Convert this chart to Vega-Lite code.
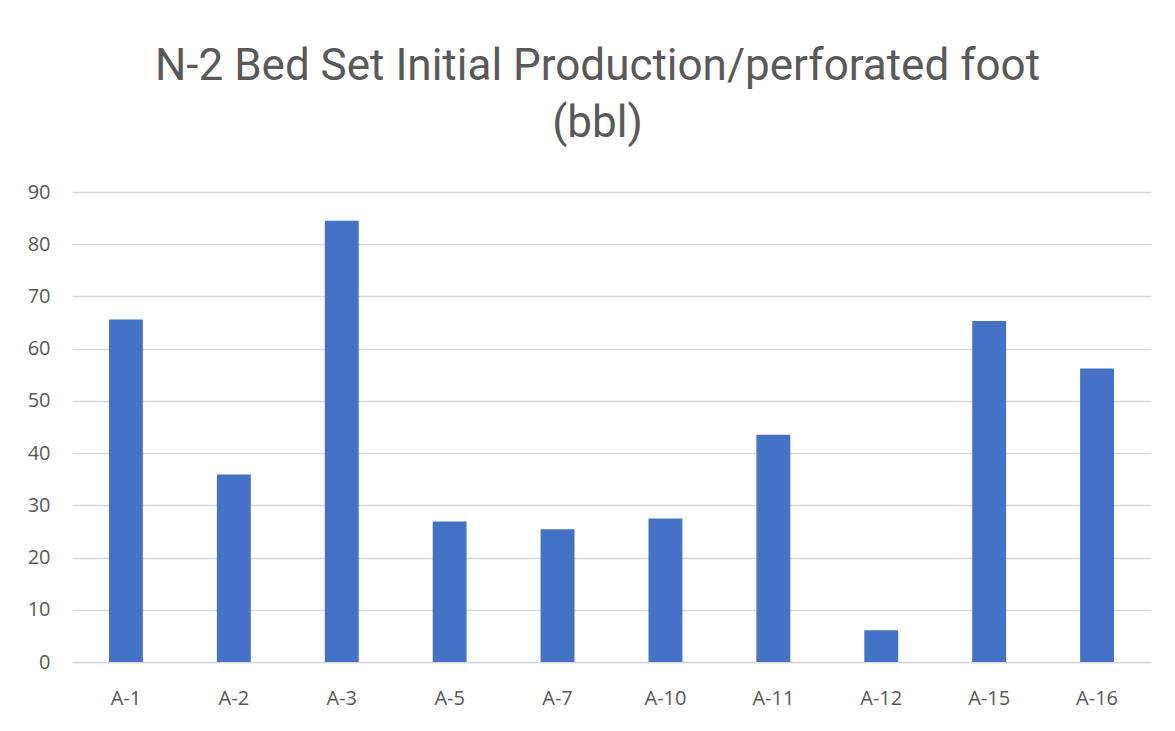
{
  "$schema": "https://vega.github.io/schema/vega-lite/v6.json",
  "autosize": "none",
  "width": 1079,
  "height": 470,
  "padding": {"left": 72, "top": 192, "right": 24, "bottom": 69},
  "background": "white",
  "title": {
    "text": ["N-2 Bed Set Initial Production/perforated foot", "(bbl)"],
    "font": "Liberation Sans Narrow, Roboto, sans-serif",
    "fontSize": 44,
    "fontWeight": "normal",
    "color": "#595959",
    "anchor": "middle",
    "lineHeight": 57,
    "offset": 36,
    "dx": -14
  },
  "data": {
    "values": [
      {"well": "A-1", "value": 65.6},
      {"well": "A-2", "value": 35.9},
      {"well": "A-3", "value": 84.5},
      {"well": "A-5", "value": 26.9},
      {"well": "A-7", "value": 25.4},
      {"well": "A-10", "value": 27.5},
      {"well": "A-11", "value": 43.5},
      {"well": "A-12", "value": 6.1},
      {"well": "A-15", "value": 65.3},
      {"well": "A-16", "value": 56.2}
    ]
  },
  "mark": {"type": "bar", "color": "#4472C4"},
  "encoding": {
    "x": {
      "field": "well",
      "type": "nominal",
      "sort": null,
      "title": null,
      "scale": {"paddingInner": 0.686, "paddingOuter": 0.343},
      "axis": {
        "labelAngle": 0,
        "ticks": false,
        "domainColor": "#d9d9d9",
        "domainWidth": 1.5,
        "labelFont": "Open Sans",
        "labelFontSize": 20,
        "labelColor": "#595959",
        "labelPadding": 26
      }
    },
    "y": {
      "field": "value",
      "type": "quantitative",
      "title": null,
      "scale": {"domain": [0, 90]},
      "axis": {
        "values": [0, 10, 20, 30, 40, 50, 60, 70, 80, 90],
        "domain": false,
        "ticks": false,
        "gridColor": "#d9d9d9",
        "gridWidth": 1.5,
        "labelFont": "Open Sans",
        "labelFontSize": 20,
        "labelColor": "#595959",
        "labelPadding": 22
      }
    }
  },
  "config": {"view": {"stroke": null}}
}
